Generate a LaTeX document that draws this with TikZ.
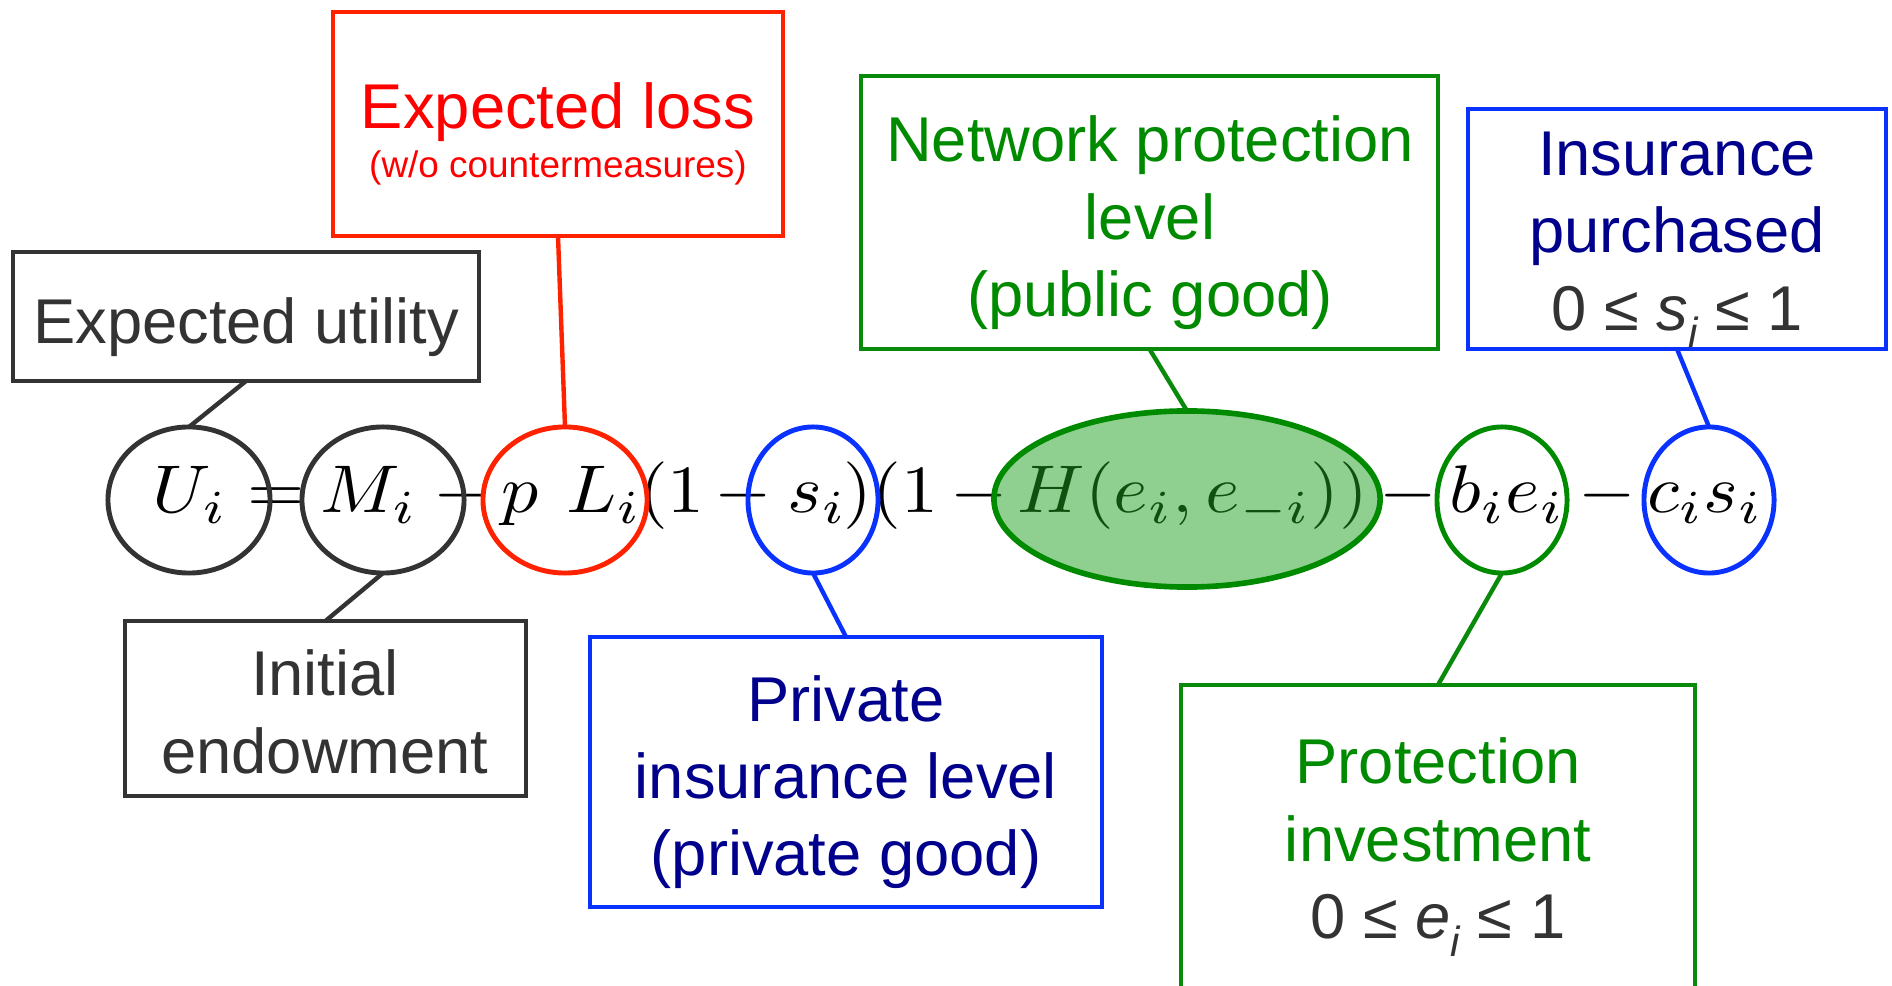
\documentclass[tikz,border=0pt]{standalone}
\usepackage[no-math]{fontspec}
\setmainfont{Liberation Sans}
\usepackage{graphicx}
\usetikzlibrary{shapes.geometric}
\definecolor{dgray}{HTML}{333333}
\definecolor{lred}{HTML}{FF2200}
\definecolor{tred}{HTML}{FF0000}
\definecolor{lgreen}{HTML}{0A8A0A}
\definecolor{tgreen}{HTML}{008A00}
\definecolor{lblue}{HTML}{0A32FF}
\definecolor{tblue}{HTML}{00008C}
\definecolor{hfill}{HTML}{1FA01F}
\newcommand\eqp[1]{\scalebox{2.1}[1.92]{$#1$}}
\newcommand\subi{\raisebox{-5pt}{\fontsize{12}{12}\selectfont\itshape i}}
\begin{document}
\begin{tikzpicture}[x=0.01cm,y=-0.01cm,
  box/.style={draw, rectangle, line width=1.25pt, inner sep=0pt, outer sep=0pt},
  ell/.style={draw, ellipse, line width=1.4pt, inner sep=0pt, outer sep=0pt, minimum height=1.46cm},
  lbl/.style={align=center, inner sep=0pt, font=\fontsize{18}{22}\selectfont},
  mth/.style={anchor=base, inner sep=0pt},
  conn/.style={line width=1.25pt}]
\useasboundingbox (0,0) rectangle (1892,986);
% formula
\node[mth] (f1) at (190,513) {\eqp{U_i}};
\node[mth] (f2) at (276,513) {\eqp{=}};
\node[mth] (f3) at (369,513) {\eqp{M_i}};
\node[mth] (f4) at (462,513) {\eqp{-}};
\node[mth] (f5) at (520,513) {\eqp{p}};
\node[mth] (f6) at (604,513) {\eqp{L_i}};
\node[mth] (f7) at (672,513) {\eqp{(1}};
\node[mth] (f8) at (743,513) {\eqp{-}};
\node[mth] (f9) at (817,513) {\eqp{s_i}};
\node[mth] (f10) at (891,513) {\eqp{)(1}};
\node[mth] (f11) at (979,513) {\eqp{-}};
\node[mth] (f12) at (1193,513) {\eqp{H(e_i,e_{-i}))}};
\node[mth] (f13) at (1408,513) {\eqp{-}};
\node[mth] (f14) at (1507,513) {\eqp{b_ie_i}};
\node[mth] (f15) at (1607,513) {\eqp{-}};
\node[mth] (f16) at (1705,513) {\eqp{c_is_i}};
% ellipses
\node[ell, draw=dgray, minimum width=1.62cm] (U) at (189,500) {};
\node[ell, draw=dgray, minimum width=1.62cm] (M) at (383,500) {};
\node[ell, draw=lred, minimum width=1.64cm] (pL) at (565,500) {};
\node[ell, draw=lblue, minimum width=1.30cm] (s) at (813,500) {};
\node[ell, draw=tgreen, fill=hfill, fill opacity=0.5, line width=1.6pt, minimum width=3.86cm, minimum height=1.76cm] (H) at (1187,499) {};
\node[ell, draw=tgreen, minimum width=1.30cm] (be) at (1502,500) {};
\node[ell, draw=lblue, minimum width=1.30cm] (cs) at (1709,500) {};
% boxes
\node[box, draw=dgray, minimum width=4.66cm, minimum height=1.29cm] (eu) at (246,316.5) {};
\node[box, draw=lred, minimum width=4.50cm, minimum height=2.24cm] (el) at (558,124) {};
\node[box, draw=lgreen, minimum width=5.77cm, minimum height=2.73cm] (np) at (1149.5,212.5) {};
\node[box, draw=lblue, minimum width=4.18cm, minimum height=2.40cm] (ip) at (1677,229) {};
\node[box, draw=dgray, minimum width=4.01cm, minimum height=1.75cm] (ie) at (325.5,708.5) {};
\node[box, draw=lblue, minimum width=5.12cm, minimum height=2.70cm] (pi) at (846,772) {};
\node[box, draw=lgreen, minimum width=5.14cm, minimum height=3.36cm] (pinv) at (1438,853) {};
% labels
\node[lbl, text=dgray] (teu) at (246,327) {Expected utility};
\node[lbl, text=tred] (tel) at (558,134) {Expected loss\\[-8pt]{\fontsize{10.5}{13}\selectfont (w/o countermeasures)}};
\node[lbl, text=tgreen] (tnp) at (1150,223) {Network protection\\level\\(public good)};
\node[lbl, text=tblue] (tip) at (1677,240) {Insurance\\purchased\\{\color{dgray}0 ≤ \textit{s}\subi{} ≤ 1}};
\node[lbl, text=dgray] (tie) at (325,712) {Initial\\endowment};
\node[lbl, text=tblue] (tpi) at (846,782) {Private\\insurance level\\(private good)};
\node[lbl, text=tgreen] (tpinv) at (1438,847) {Protection\\investment\\{\color{dgray}0 ≤ \textit{e}\subi{} ≤ 1}};
% connectors
\draw[conn, dgray] (eu.south) -- (U.north);
\draw[conn, lred] (el.south) -- (pL.north);
\draw[conn, lgreen] (np.south) -- (H.north);
\draw[conn, lblue] (ip.south) -- (cs.north);
\draw[conn, dgray] (ie.north) -- (M.south);
\draw[conn, lblue] (pi.north) -- (s.south);
\draw[conn, lgreen] (pinv.north) -- (be.south);
\end{tikzpicture}
\end{document}
